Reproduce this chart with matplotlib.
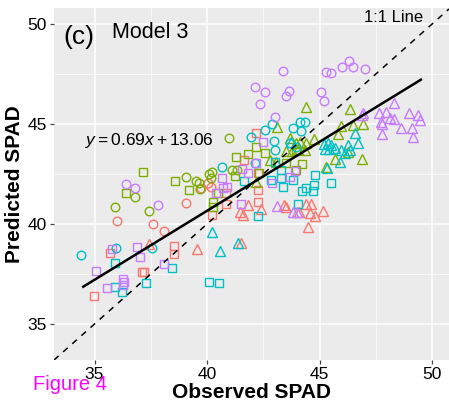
import matplotlib
matplotlib.use("Agg")
import matplotlib.pyplot as plt
import numpy as np

plt.rcParams["font.family"] = ["Liberation Sans", "DejaVu Sans"]
plt.rcParams["mathtext.fontset"] = "custom"
plt.rcParams["mathtext.rm"] = "Liberation Sans"
plt.rcParams["mathtext.it"] = "Liberation Sans:italic"

# observed / predicted SPAD, grouped by colour and shape
purple_circle_x = [43.39, 45.30, 45.49, 46.01, 46.30, 46.47, 47.04, 42.11, 42.59, 42.36,
                   43.64, 43.52, 45.08, 45.21, 43.00, 36.38, 36.78, 37.80]
purple_circle_y = [47.65, 47.59, 47.54, 47.87, 48.17, 47.87, 47.74, 46.84, 46.59, 45.99,
                   46.65, 46.40, 46.59, 46.17, 45.35, 42.00, 41.80, 40.95]

purple_tri_x = [48.30, 48.96, 49.37, 49.44, 47.62, 47.96, 48.14, 48.30, 47.74, 47.78,
                48.63, 49.12, 49.15, 47.78, 46.92, 46.87, 43.13, 43.84, 43.99]
purple_tri_y = [46.04, 45.57, 45.45, 45.20, 45.57, 45.62, 45.29, 45.25, 45.12, 45.00,
                44.79, 44.79, 44.35, 44.48, 45.54, 45.43, 40.92, 40.62, 40.62]

purple_sq_x = [35.08, 35.79, 35.56, 36.26, 36.30, 36.26, 36.90, 37.00, 38.07, 41.49,
               40.41, 40.66, 40.73, 40.88, 41.56, 41.81, 42.48, 42.16, 42.90, 43.70, 43.92]
purple_sq_y = [37.65, 38.75, 36.79, 37.25, 37.10, 36.95, 38.87, 38.37, 38.00, 41.00,
               41.54, 42.32, 41.79, 41.87, 42.74, 42.54, 44.12, 43.04, 42.04, 42.37, 42.67]

salmon_tri_x = [43.41, 43.52, 44.08, 44.41, 44.60, 44.56, 44.78, 45.15, 44.48, 41.52,
                41.48, 41.59, 41.81, 42.38, 39.56, 37.41]
salmon_tri_y = [40.95, 40.87, 40.59, 40.99, 40.99, 40.57, 40.42, 40.67, 39.87, 39.07,
                40.62, 40.45, 40.95, 40.74, 38.74, 38.99]

salmon_sq_x = [34.96, 35.71, 37.12, 37.19, 38.51, 38.51, 40.21, 40.85, 42.26, 42.19,
               41.62, 42.26, 40.85, 42.26]
salmon_sq_y = [36.42, 38.57, 37.62, 37.62, 38.90, 38.49, 40.45, 41.00, 41.12, 44.54,
               43.20, 42.54, 41.54, 41.70]

salmon_circle_x = [35.99, 37.62, 38.08, 39.08, 40.04, 39.74, 40.19]
salmon_circle_y = [40.17, 40.00, 39.65, 41.07, 42.04, 41.79, 41.87]

green_circle_x = [35.89, 37.41, 36.82, 39.08, 39.52, 39.64, 39.70, 40.08, 40.23, 40.16,
                  40.97, 41.12, 41.32]
green_circle_y = [40.87, 40.65, 41.35, 42.37, 42.15, 42.04, 41.75, 42.49, 42.59, 42.29,
                  44.29, 42.70, 42.70]

green_sq_x = [37.15, 36.41, 38.56, 39.22, 40.26, 40.26, 40.48, 41.30, 41.81, 42.59,
              42.19, 41.22, 42.33, 43.96, 43.52, 44.23, 43.96]
green_sq_y = [42.62, 41.54, 42.15, 41.69, 41.12, 40.87, 41.54, 43.37, 43.48, 43.54,
              43.87, 42.42, 42.54, 43.65, 43.04, 42.99, 42.70]

green_tri_x = [43.12, 43.67, 44.38, 44.38, 44.75, 46.33, 46.48, 46.92, 45.96, 45.81,
               46.90, 45.67, 46.26, 45.30, 43.49, 43.79, 43.08, 42.78, 42.19, 44.04,
               43.93, 44.33, 44.11]
green_tri_y = [44.87, 44.29, 45.87, 44.04, 44.24, 45.74, 44.95, 45.00, 44.90, 44.50,
               43.24, 43.24, 43.62, 42.84, 43.67, 43.67, 43.12, 43.20, 42.12, 43.74,
               44.04, 43.70, 44.12]

cyan_circle_x = [34.41, 35.95, 37.55, 40.67, 41.96, 42.59, 42.90, 42.97, 43.03, 43.82,
                 44.11, 44.33, 44.16, 42.14, 43.70, 43.93]
cyan_circle_y = [38.43, 38.79, 38.80, 42.84, 44.34, 44.70, 45.00, 44.15, 43.70, 44.79,
                 45.12, 45.12, 44.65, 43.04, 44.04, 43.87]

cyan_tri_x = [40.21, 40.56, 41.38, 45.19, 45.37, 45.52, 45.44, 45.67, 45.22, 45.96,
              46.26, 46.33, 46.11, 46.56, 46.70, 45.89, 45.34, 43.74]
cyan_tri_y = [39.59, 38.63, 39.03, 43.99, 44.04, 43.95, 43.74, 43.79, 43.74, 43.70,
              43.95, 43.70, 43.57, 44.54, 44.04, 43.12, 42.79, 44.12]

cyan_sq_x = [35.89, 35.89, 36.23, 37.27, 38.45, 40.07, 40.51, 42.26, 44.04, 41.63,
             42.85, 43.30, 43.30, 43.37, 44.23, 44.41, 44.73, 44.81, 44.70, 45.49,
             43.81, 43.04]
cyan_sq_y = [38.07, 36.84, 36.62, 37.04, 37.82, 37.12, 37.07, 40.42, 41.00, 42.15,
             42.20, 42.70, 42.29, 41.87, 41.65, 41.79, 41.95, 42.45, 41.67, 42.04,
             42.20, 43.09]

slope = 0.69
intercept = 13.06
fit_range = [34.5, 49.5]

SALMON = "#F8766D"
GREEN = "#7CAE00"
CYAN = "#00BFC4"
PURPLE = "#C77CFF"

groups = [
    (salmon_circle_x, salmon_circle_y, SALMON, "o"),
    (salmon_sq_x, salmon_sq_y, SALMON, "s"),
    (salmon_tri_x, salmon_tri_y, SALMON, "^"),
    (green_circle_x, green_circle_y, GREEN, "o"),
    (green_sq_x, green_sq_y, GREEN, "s"),
    (green_tri_x, green_tri_y, GREEN, "^"),
    (cyan_circle_x, cyan_circle_y, CYAN, "o"),
    (cyan_sq_x, cyan_sq_y, CYAN, "s"),
    (cyan_tri_x, cyan_tri_y, CYAN, "^"),
    (purple_circle_x, purple_circle_y, PURPLE, "o"),
    (purple_sq_x, purple_sq_y, PURPLE, "s"),
    (purple_tri_x, purple_tri_y, PURPLE, "^"),
]
marker_size = {"o": 6.2, "s": 5.6, "^": 7.4}

fig = plt.figure(figsize=(4.49, 4.08), dpi=100)
ax = fig.add_axes([54 / 449, 48 / 408, 395 / 449, 352 / 408])
ax.set_facecolor("#EBEBEB")

xlim = (33.2, 50.75)
ylim = (33.2, 50.8)
ax.set_xlim(xlim)
ax.set_ylim(ylim)

ax.set_xticks([35, 40, 45, 50])
ax.set_yticks([35, 40, 45, 50])
ax.set_xticks([37.5, 42.5, 47.5], minor=True)
ax.set_yticks([37.5, 42.5, 47.5], minor=True)
ax.grid(which="major", color="white", linewidth=1.1)
ax.grid(which="minor", color="white", linewidth=0.5)
ax.set_axisbelow(True)
for s in ax.spines.values():
    s.set_visible(False)
ax.tick_params(which="major", length=3, width=0.9, color="#444444",
               labelsize=12.5, labelcolor="black", pad=2)
ax.tick_params(which="minor", length=0)

for gx, gy, col, mk in groups:
    ax.plot(gx, gy, linestyle="none", marker=mk, markersize=marker_size[mk],
            markerfacecolor="none", markeredgecolor=col, markeredgewidth=1.0)

# 1:1 line
ax.plot(xlim, xlim, color="black", linestyle=(0, (4, 4)), linewidth=1.1)
# regression line
fx = np.array(fit_range)
ax.plot(fx, slope * fx + intercept, color="black", linewidth=1.8)

ax.text(34.29, 49.35, "(c)", fontsize=19, ha="center", va="center")
ax.text(35.76, 49.55, "Model 3", fontsize=15.5, ha="left", va="center")
ax.text(49.62, 50.33, "1:1 Line", fontsize=12, ha="right", va="center")
ax.text(37.44, 44.15, r"$y = 0.69x + 13.06$", fontsize=12.5, ha="center", va="center")

ax.set_xlabel("Observed SPAD", fontsize=15, fontweight="bold", labelpad=1)
ax.set_ylabel("Predicted SPAD", fontsize=15, fontweight="bold", labelpad=3)

# magenta caption sits over the "35" tick label, as in the original
fig.text(33 / 449, 1 - 385 / 408, "Figure 4", color="#FF00FF", fontsize=14.5,
         ha="left", va="center")

fig.savefig("out.png", dpi=100)
